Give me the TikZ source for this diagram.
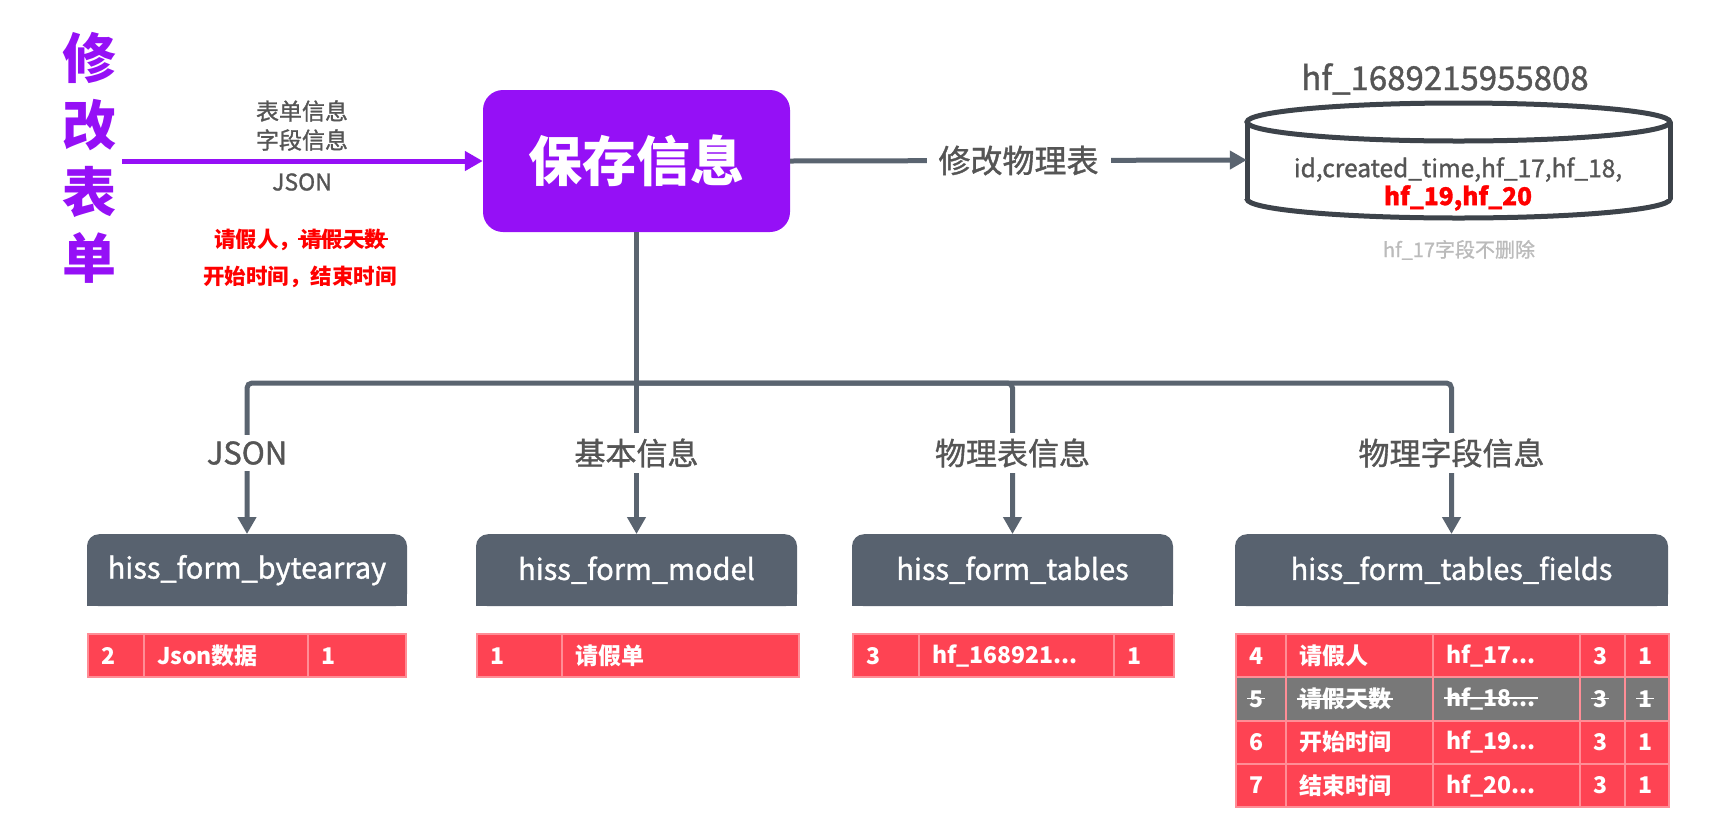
\documentclass[tikz,border=0pt]{standalone}
\usepackage{fontspec}
\setmainfont{Noto Sans CJK SC}
\newfontfamily\medium[FakeBold=1.2]{Noto Sans CJK SC}
\usetikzlibrary{arrows.meta,backgrounds}
\definecolor{pur}{HTML}{9510F6}
\definecolor{connc}{HTML}{5A6470}
\definecolor{hdrc}{HTML}{58626F}
\definecolor{txtg}{HTML}{555555}
\definecolor{redc}{HTML}{FE4353}
\definecolor{pinkb}{HTML}{FF8D96}
\definecolor{grayrow}{HTML}{787878}
\definecolor{cylc}{HTML}{3D434A}
\definecolor{lightg}{HTML}{BBBBBB}
\definecolor{redt}{HTML}{FF0000}
\newcommand\fs[1]{\fontsize{#1}{#1}\selectfont}
\newcommand\fsl[2]{\fontsize{#1}{#2}\selectfont}
\newsavebox\strkbox
\newcommand\strk[1]{\sbox\strkbox{#1}\rlap{\kern-2pt\rule[0.34em]{\dimexpr\wd\strkbox+4pt\relax}{1.8pt}}\usebox\strkbox}
\begin{document}
\begin{tikzpicture}[x=1pt,y=-1pt,
  conn/.style={draw=connc, line width=5pt},
  tipg/.style={-{Triangle[length=17pt,width=18pt]}},
  lab/.style={fill=white, text=txtg, font=\medium\fs{31}, inner xsep=4pt, inner ysep=6pt},
  hdr/.style={fill=hdrc, rounded corners=12pt, text=white, font=\medium\fs{29}, minimum height=72pt, inner sep=0pt, anchor=north},
  cell/.style={draw=pinkb, fill=redc, line width=2pt, minimum height=43.3pt, inner xsep=13pt, inner ysep=0pt, anchor=north west, text=white, font=\bfseries\fs{23}, align=left},
  gcell/.style={cell, fill=grayrow},
  cyl/.style={draw=cylc, line width=5pt},
]
\useasboundingbox (0,0) rectangle (1728,831);

% left title
\node[align=center, text=pur, font=\bfseries\fsl{54}{66.7}, inner sep=0pt] (title) at (89,158) {修\\改\\表\\单};

% main box
\node[fill=pur, rounded corners=20pt, minimum width=307pt, minimum height=142pt, inner sep=0pt, text=white, font=\bfseries\fs{54}] (save) at (636.5,161) {保存信息};

% purple arrow
\coordinate (pstart) at (122,161);
\draw[draw=pur, line width=5pt, -{Triangle[length=18pt,width=19pt]}] (pstart) -- (save.west);
\node[text=txtg, font=\medium\fs{23}, inner sep=0pt] (lbl1) at (302,111) {表单信息};
\node[text=txtg, font=\medium\fs{23}, inner sep=0pt] (lbl2) at (302,140) {字段信息};
\node[text=txtg, font=\medium\fs{23}, inner sep=0pt] (lbl3) at (302,182) {JSON};
\node[text=redt, font=\bfseries\fs{21.5}, inner sep=0pt] (red1) at (300,240) {请假人，\strk{请假天数}};
\node[text=redt, font=\bfseries\fs{21.5}, inner sep=0pt] (red2) at (300,277) {开始时间，结束时间};

% cylinder
\node[inner sep=0pt, minimum width=423pt, minimum height=116pt] (db) at (1458.5,160) {};
\draw[cyl] (1247,122) -- (1247,199);
\draw[cyl] (1670,122) -- (1670,199);
\draw[cyl] (1458.5,122) ellipse [x radius=211.5, y radius=19];
\begin{scope}
  \clip (1230,199) rectangle (1690,240);
  \draw[cyl] (1458.5,199) ellipse [x radius=211.5, y radius=19];
\end{scope}
\node[text=txtg, font=\medium\fs{33}, inner sep=0pt] (dbname) at (1445,79) {hf\_1689215955808};
\node[text=txtg, align=center, font=\medium\fsl{24.5}{28}, inner sep=0pt] (dbtext) at (1458,184) {id,created\_time,hf\_17,hf\_18,\\\textcolor{redt}{\bfseries hf\_19,hf\_20}};
\node[text=lightg, font=\medium\fs{20}, inner sep=0pt] (dbnote) at (1459,250) {hf\_17字段不删除};

% connector to cylinder
\draw[conn, tipg] (save.east) -- node[fill=white, text=txtg, font=\medium\fs{32}, inner xsep=12pt, inner ysep=4pt] (modlbl) {修改物理表} (db.west);

% header boxes
\node[hdr, minimum width=320pt] (h1) at (247,534) {hiss\_form\_bytearray};
\node[hdr, minimum width=321pt] (h2) at (636.5,534) {hiss\_form\_model};
\node[hdr, minimum width=321pt] (h3) at (1012.5,534) {hiss\_form\_tables};
\node[hdr, minimum width=433pt] (h4) at (1451.5,534) {hiss\_form\_tables\_fields};
\begin{pgfonlayer}{background}
  \fill[hdrc] (h1.west) rectangle (h1.south east);
  \fill[hdrc] (h2.west) rectangle (h2.south east);
  \fill[hdrc] (h3.west) rectangle (h3.south east);
  \fill[hdrc] (h4.west) rectangle (h4.south east);
\end{pgfonlayer}

% tree connectors
\coordinate (tr) at (636.5,383);
\draw[conn] (save.south) -- (tr);
\draw[conn, tipg, rounded corners=5pt] (tr) -| (h1.north);
\draw[conn, tipg] (tr) -- (h2.north);
\draw[conn, tipg, rounded corners=5pt] (tr) -| (h3.north);
\draw[conn, tipg, rounded corners=5pt] (tr) -| (h4.north);
\node[lab] (b1) at (247,453) {JSON};
\node[lab] (b2) at (636.5,453) {基本信息};
\node[lab] (b3) at (1012.5,453) {物理表信息};
\node[lab] (b4) at (1451.5,453) {物理字段信息};

% tables: bytearray
\node[cell, text width=30pt] (c11) at (87,633) {2};
\node[cell, text width=138pt] (c12) at (143,633) {Json数据};
\node[cell, text width=72pt] (c13) at (307,633) {1};
% model
\node[cell, text width=59pt] (c21) at (476,633) {1};
\node[cell, text width=211pt] (c22) at (561,633) {请假单};
% tables
\node[cell, text width=40pt] (c31) at (852,633) {3};
\node[cell, text width=169pt] (c32) at (918,633) {hf\_168921...};
\node[cell, text width=34pt] (c33) at (1113,633) {1};
% fields
\node[cell, text width=24pt] (f11) at (1235,633) {4};
\node[cell, text width=121pt] (f12) at (1285,633) {请假人};
\node[cell, text width=121pt] (f13) at (1432,633) {hf\_17...};
\node[cell, text width=19pt] (f14) at (1579,633) {3};
\node[cell, text width=18pt] (f15) at (1624,633) {1};

\node[gcell, text width=24pt] (f21) at (1235,676.3) {\strk{5}};
\node[gcell, text width=121pt] (f22) at (1285,676.3) {\strk{请假天数}};
\node[gcell, text width=121pt] (f23) at (1432,676.3) {\strk{hf\_18...}};
\node[gcell, text width=19pt] (f24) at (1579,676.3) {\strk{3}};
\node[gcell, text width=18pt] (f25) at (1624,676.3) {\strk{1}};

\node[cell, text width=24pt] (f31) at (1235,719.6) {6};
\node[cell, text width=121pt] (f32) at (1285,719.6) {开始时间};
\node[cell, text width=121pt] (f33) at (1432,719.6) {hf\_19...};
\node[cell, text width=19pt] (f34) at (1579,719.6) {3};
\node[cell, text width=18pt] (f35) at (1624,719.6) {1};

\node[cell, text width=24pt] (f41) at (1235,762.9) {7};
\node[cell, text width=121pt] (f42) at (1285,762.9) {结束时间};
\node[cell, text width=121pt] (f43) at (1432,762.9) {hf\_20...};
\node[cell, text width=19pt] (f44) at (1579,762.9) {3};
\node[cell, text width=18pt] (f45) at (1624,762.9) {1};
\end{tikzpicture}
\end{document}
